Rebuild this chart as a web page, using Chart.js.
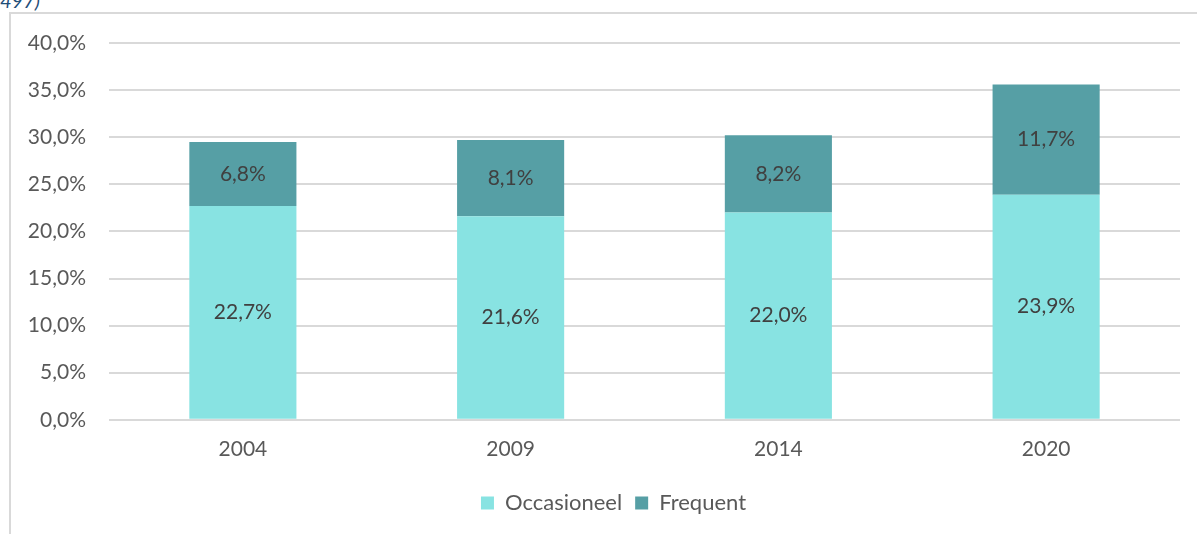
<!DOCTYPE html>
<html><head><meta charset="utf-8">
<script src="https://cdn.jsdelivr.net/npm/chart.js@4.4.1/dist/chart.umd.min.js"></script>
<style>
html,body{margin:0;padding:0;background:#fff;width:1197px;height:534px;overflow:hidden;position:relative;font-family:Lato,"Open Sans",sans-serif;}
#frame{position:absolute;left:9px;top:12px;width:1200px;height:540px;border-left:2px solid #d9d9d9;border-top:2px solid #d9d9d9;}
#note{position:absolute;left:0px;top:-12px;font-style:italic;color:#1f4e79;font-size:20px;font-family:Lato,sans-serif;}
#wrap{position:absolute;left:0;top:0;width:1197px;height:534px;}
</style></head>
<body>
<div id="note">497)</div>
<div id="frame"></div>
<div id="wrap"><canvas id="c" width="1197" height="534"></canvas></div>
<script>
const categories = ["2004","2009","2014","2020"];
const occasioneel = [22.7, 21.6, 22.0, 23.9];
const frequent = [6.8, 8.1, 8.2, 11.7];
const seriesNames = ["Occasioneel","Frequent"];

const fmt = v => v.toFixed(1).replace('.', ',') + '%';
const FONT = 'Lato, sans-serif';

const labelPlugin = {
  id: 'barLabels',
  afterLayout(chart) {
    if (chart.legend) { chart.legend.left += 19; chart.legend.right += 19; }
  },
  afterDatasetsDraw(chart) {
    const ctx = chart.ctx;
    ctx.save();
    ctx.font = '21px ' + FONT;
    ctx.fillStyle = '#404040';
    ctx.textAlign = 'center';
    ctx.textBaseline = 'middle';
    chart.data.datasets.forEach((ds, di) => {
      const meta = chart.getDatasetMeta(di);
      meta.data.forEach((bar, i) => {
        const y = (bar.y + bar.base) / 2;
        ctx.fillText(fmt(ds.data[i]), bar.x, y);
      });
    });
    ctx.restore();
  }
};

new Chart(document.getElementById('c'), {
  type: 'bar',
  data: {
    labels: categories,
    datasets: [
      {label: seriesNames[0], data: occasioneel, backgroundColor: '#88e3e2', barPercentage: 0.8, categoryPercentage: 0.5},
      {label: seriesNames[1], data: frequent, backgroundColor: '#569fa5', barPercentage: 0.8, categoryPercentage: 0.5}
    ]
  },
  options: {
    responsive: false,
    animation: false,
    devicePixelRatio: 1,
    layout: {padding: {left: 9, right: 17, top: 43, bottom: 10}},
    plugins: {
      tooltip: {enabled: false},
      legend: {
        position: 'bottom',
        labels: {boxWidth: 13, boxHeight: 13, color: '#595959', font: {size: 22, family: FONT}, padding: 13}
      }
    },
    scales: {
      x: {
        stacked: true,
        grid: {display: false, drawTicks: false},
        border: {display: false},
        ticks: {color: '#595959', font: {size: 21, family: FONT}, padding: 17}
      },
      y: {
        stacked: true,
        min: 0, max: 40,
        afterFit: s => { s.width = 100; },
        grid: {color: '#d9d9d9', lineWidth: 2, drawTicks: false},
        border: {display: false},
        ticks: {stepSize: 5, color: '#595959', font: {size: 21, family: FONT}, padding: 23,
          callback: v => fmt(v)}
      }
    }
  },
  plugins: [labelPlugin]
});
</script>
</body></html>
